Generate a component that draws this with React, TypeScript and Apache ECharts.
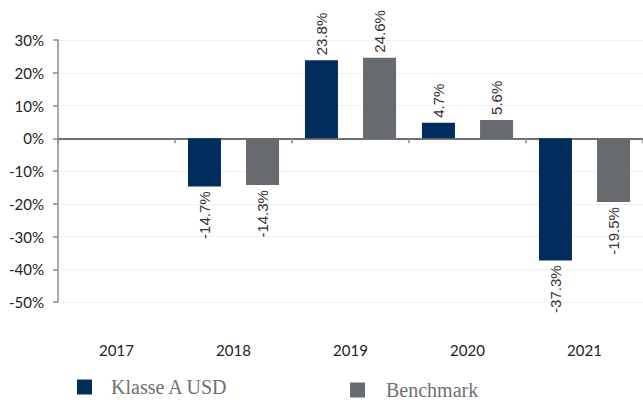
import React, { useEffect, useRef } from "react";
import * as echarts from "echarts";

const categories = ["2017", "2018", "2019", "2020", "2021"];
const klasseA: (number | null)[] = [null, -14.7, 23.8, 4.7, -37.3];
const benchmark: (number | null)[] = [null, -14.3, 24.6, 5.6, -19.5];
const seriesNames = ["Klasse A USD", "Benchmark"];
const colors = ["#002d5b", "#676b6f"];

const labelFont = "'Liberation Sans', Arial, sans-serif";
const axisFont = "Lato, 'Open Sans', sans-serif";
const legendFont = "'Liberation Serif', 'DejaVu Serif', serif";

function toData(values: (number | null)[]) {
  return values.map((v) => {
    if (v === null) return { value: null };
    const pos = v >= 0;
    return {
      value: v,
      label: {
        show: true,
        position: "outside",
        rotate: 90,
        align: pos ? "left" : "right",
        verticalAlign: "middle",
        distance: 5,
        formatter: () => v.toFixed(1) + "%",
        color: "#333333",
        fontSize: 15,
        fontFamily: labelFont,
      },
    };
  });
}

export default function App() {
  const ref = useRef<HTMLDivElement>(null);
  useEffect(() => {
    if (!ref.current) return;
    const chart = echarts.init(ref.current, null, { renderer: "svg" });
    chart.setOption({
      animation: false,
      backgroundColor: "#ffffff",
      grid: { left: 58, right: -4, top: 40, bottom: 103, containLabel: false },
      legend: [
        {
          data: [seriesNames[0]],
          left: 77,
          top: 376,
          padding: 0,
          icon: "rect",
          itemWidth: 15,
          itemHeight: 15,
          textStyle: {
            fontFamily: legendFont,
            fontSize: 20,
            color: "#707070",
            lineHeight: 22,
            padding: [0, 0, 0, 14],
          },
        },
        {
          data: [seriesNames[1]],
          left: 350,
          top: 379,
          padding: 0,
          icon: "rect",
          itemWidth: 15,
          itemHeight: 15,
          textStyle: {
            fontFamily: legendFont,
            fontSize: 20,
            color: "#707070",
            lineHeight: 22,
            padding: [0, 0, 0, 16],
          },
        },
      ],
      xAxis: [
        {
          type: "category",
          data: categories,
          axisLine: { onZero: true, lineStyle: { color: "#6e7072", width: 2 } },
          axisTick: { show: true, alignWithLabel: false, length: 5, lineStyle: { color: "#8a8a8a", width: 1.5 } },
          axisLabel: { show: false },
          splitLine: { show: false },
        },
        {
          type: "category",
          data: categories,
          position: "bottom",
          axisLine: { show: false, onZero: false },
          axisTick: { show: false },
          axisLabel: {
            show: true,
            margin: 40,
            color: "#222222",
            fontSize: 15,
            fontFamily: axisFont,
          },
          splitLine: { show: false },
        },
      ],
      yAxis: {
        type: "value",
        min: -50,
        max: 30,
        interval: 10,
        axisLine: { show: true, lineStyle: { color: "#8c8c8c", width: 1.5 } },
        axisTick: { show: true, length: 5, lineStyle: { color: "#8c8c8c", width: 1.5 } },
        axisLabel: {
          formatter: (v: number) => v + "%",
          margin: 14,
          color: "#222222",
          fontSize: 15,
          fontFamily: axisFont,
        },
        splitLine: { show: true, lineStyle: { color: "#f0f0f0", width: 1 } },
      },
      series: [
        {
          name: seriesNames[0],
          type: "bar",
          xAxisIndex: 0,
          data: toData(klasseA),
          barWidth: 33,
          barGap: "76%",
          itemStyle: { color: colors[0] },
        },
        {
          name: seriesNames[1],
          type: "bar",
          xAxisIndex: 0,
          data: toData(benchmark),
          barWidth: 33,
          barGap: "76%",
          itemStyle: { color: colors[1] },
        },
      ],
    });
    return () => chart.dispose();
  }, []);
  return <div ref={ref} style={{ width: 643, height: 405, position: "absolute", left: 0, top: 0 }} />;
}
